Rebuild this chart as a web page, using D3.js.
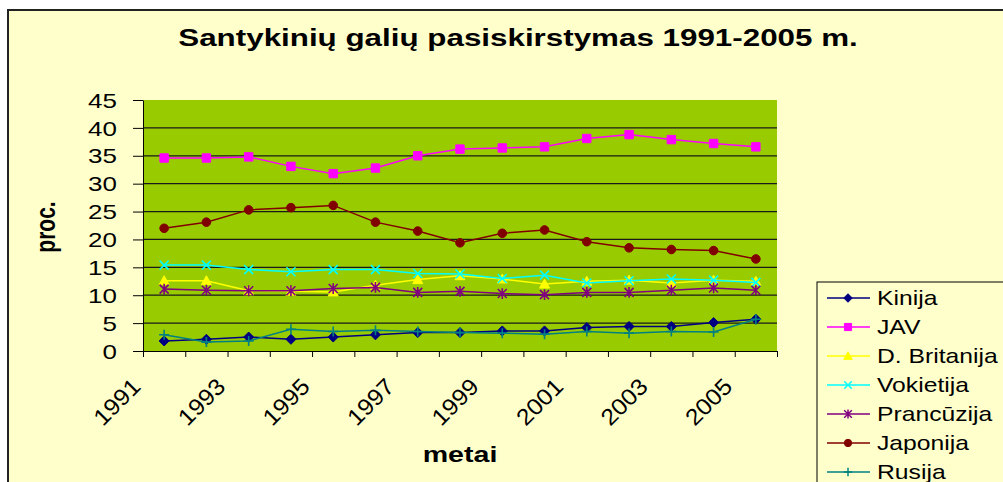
<!DOCTYPE html>
<html>
<head>
<meta charset="utf-8">
<script src="https://cdn.jsdelivr.net/npm/d3@7"></script>
<style>
  body { margin: 0; background: #fff; }
  svg { display: block; font-family: "Liberation Sans", Arial, sans-serif; }
</style>
</head>
<body>
<div id="chart"></div>
<script>
// chart data
const years = [1991, 1992, 1993, 1994, 1995, 1996, 1997, 1998, 1999, 2000, 2001, 2002, 2003, 2004, 2005];
const tickYears = [1991, 1993, 1995, 1997, 1999, 2001, 2003, 2005];
const yTicks = [0, 5, 10, 15, 20, 25, 30, 35, 40, 45];

const kinija      = [1.8, 2.1, 2.5, 2.1, 2.5, 2.9, 3.3, 3.3, 3.6, 3.6, 4.2, 4.4, 4.4, 5.1, 5.7];
const jav         = [34.6, 34.6, 34.8, 33.1, 31.8, 32.8, 35.0, 36.2, 36.4, 36.6, 38.1, 38.8, 37.9, 37.2, 36.6];
const dBritanija  = [12.6, 12.6, 10.8, 10.7, 10.6, 11.8, 12.8, 13.5, 12.9, 12.0, 12.5, 12.7, 12.2, 12.7, 12.5];
const vokietija   = [15.4, 15.4, 14.6, 14.2, 14.6, 14.6, 13.9, 13.8, 13.0, 13.6, 12.2, 12.6, 12.9, 12.7, 12.3];
const prancuzija  = [11.1, 10.9, 10.8, 10.8, 11.2, 11.4, 10.5, 10.7, 10.3, 10.1, 10.5, 10.5, 10.9, 11.3, 10.9];
const japonija    = [22.0, 23.1, 25.3, 25.7, 26.1, 23.1, 21.5, 19.4, 21.1, 21.7, 19.6, 18.5, 18.2, 18.0, 16.5];
const rusija      = [2.9, 1.6, 1.8, 3.9, 3.5, 3.7, 3.5, 3.3, 3.2, 3.0, 3.5, 3.2, 3.5, 3.4, 5.7];

const seriesNames = ['Kinija', 'JAV', 'D. Britanija', 'Vokietija', 'Prancūzija', 'Japonija', 'Rusija'];
const seriesValues = [kinija, jav, dBritanija, vokietija, prancuzija, japonija, rusija];
const seriesColors = ['#000080', '#ff00ff', '#ffff00', '#00ffff', '#800080', '#800000', '#008080'];
const seriesMarkers = ['diamond', 'square', 'triangle', 'x', 'star', 'circle', 'plus'];

const width = 1003;
const height = 482;
const SX = 1.3; // the picture is stretched sideways
const plot = { left: 143, right: 777, top: 100, bottom: 351 };

function markerPath(type, r) {
  switch (type) {
    case 'diamond': return `M0,${-r}L${r},0L0,${r}L${-r},0Z`;
    case 'square': return `M${-r},${-r}H${r}V${r}H${-r}Z`;
    case 'triangle': return `M0,${-r}L${r},${r * 0.8}L${-r},${r * 0.8}Z`;
    case 'x': return `M${-r},${-r}L${r},${r}M${-r},${r}L${r},${-r}`;
    case 'star': return `M${-r},${-r}L${r},${r}M${-r},${r}L${r},${-r}M0,${-r * 1.2}V${r * 1.2}`;
    case 'plus': return `M${-r},0H${r}M0,${-r}V${r}`;
    case 'circle': return d3.symbol(d3.symbolCircle, Math.PI * r * r)();
  }
}
const filledMarker = t => ['diamond', 'square', 'triangle', 'circle'].includes(t);
const markerSize = { diamond: 5, square: 4.2, triangle: 5, x: 4.5, star: 4.5, plus: 5, circle: 4.3 };

const svg = d3.select('#chart').append('svg')
    .attr('width', width)
    .attr('height', height);

// chart area
svg.append('rect')
    .attr('x', 8).attr('y', 10)
    .attr('width', 1100).attr('height', 600)
    .attr('fill', '#ffffcc')
    .attr('stroke', '#222')
    .attr('stroke-width', 2);

// title
const title = svg.append('text')
    .attr('text-anchor', 'middle')
    .attr('font-weight', 'bold')
    .attr('font-size', 24)
    .text('Santykinių galių pasiskirstymas 1991-2005 m.');
const titleW = title.node().getComputedTextLength();
title.attr('transform', `translate(518,46) scale(${680 / titleW},1)`);

const x = d3.scaleBand()
    .domain(years)
    .range([plot.left, plot.right]);
const xEdge = d3.scaleLinear()
    .domain([0, years.length])
    .range([plot.left, plot.right]);
const y = d3.scaleLinear()
    .domain([0, 45])
    .range([plot.bottom, plot.top]);

// plot area
svg.append('rect')
    .attr('x', plot.left).attr('y', plot.top)
    .attr('width', plot.right - plot.left)
    .attr('height', plot.bottom - plot.top)
    .attr('fill', '#99cc00');

svg.append('g')
    .selectAll('line')
    .data(yTicks.filter(v => v > 0 && v < 45))
    .enter()
    .append('line')
    .attr('x1', plot.left).attr('x2', plot.right)
    .attr('y1', d => y(d)).attr('y2', d => y(d))
    .attr('stroke', '#1a1a1a')
    .attr('stroke-width', 1.2);

// y axis
const yAxis = svg.append('g')
    .attr('transform', `translate(${plot.left},0)`)
    .call(d3.axisLeft(y).tickValues(yTicks).tickSize(10).tickSizeOuter(0));
yAxis.select('.domain').attr('stroke', '#000');
yAxis.selectAll('.tick line').attr('stroke', '#000');
yAxis.selectAll('text')
    .attr('font-family', '"Liberation Sans", Arial, sans-serif')
    .attr('font-size', 20)
    .attr('fill', '#000')
    .attr('x', -26 / SX)
    .attr('dy', '0.36em')
    .attr('transform', `scale(${SX},1)`);

// x axis, ticks between categories
const xAxis = svg.append('g')
    .attr('transform', `translate(0,${plot.bottom})`)
    .call(d3.axisBottom(xEdge).tickValues(d3.range(years.length + 1)).tickSize(6).tickSizeOuter(0).tickFormat(''));
xAxis.select('.domain').attr('stroke', '#000');
xAxis.selectAll('.tick line').attr('stroke', '#000');

svg.append('g')
    .selectAll('text')
    .data(tickYears)
    .enter()
    .append('text')
    .attr('transform', d => `translate(${x(d) + x.bandwidth() / 2 - 22},${plot.bottom + 37}) rotate(-45) scale(1.08,1)`)
    .attr('text-anchor', 'end')
    .attr('font-size', 23)
    .text(d => d);

// axis titles
svg.append('text')
    .attr('transform', `translate(460,462) scale(${SX},1)`)
    .attr('text-anchor', 'middle')
    .attr('font-weight', 'bold')
    .attr('font-size', 22)
    .text('metai');

svg.append('text')
    .attr('transform', `translate(55,227) scale(${SX},1) rotate(-90)`)
    .attr('text-anchor', 'middle')
    .attr('font-weight', 'bold')
    .attr('font-size', 21)
    .text('proc.');

// series
const lines = svg.append('g');
seriesValues.forEach((values, i) => {
  const pts = values.map((v, j) => ({ year: years[j], val: v }));
  lines.append('path')
      .attr('fill', 'none')
      .attr('stroke', seriesColors[i])
      .attr('stroke-width', 1.5)
      .attr('d', d3.line()
          .x(d => x(d.year) + x.bandwidth() / 2)
          .y(d => y(d.val))(pts));
  const m = seriesMarkers[i];
  lines.append('g')
      .selectAll('path')
      .data(pts)
      .enter()
      .append('path')
      .attr('transform', d => `translate(${x(d.year) + x.bandwidth() / 2},${y(d.val)})`)
      .attr('d', markerPath(m, markerSize[m]))
      .attr('fill', filledMarker(m) ? seriesColors[i] : 'none')
      .attr('stroke', seriesColors[i])
      .attr('stroke-width', filledMarker(m) ? 1 : 1.6);
});

// legend
const legend = svg.append('g');
legend.append('rect')
    .attr('x', 817).attr('y', 282)
    .attr('width', 300).attr('height', 300)
    .attr('fill', '#ffffcc')
    .attr('stroke', '#000')
    .attr('stroke-width', 1);

const items = legend.selectAll('.item')
    .data(seriesNames)
    .enter()
    .append('g')
    .attr('class', 'item')
    .attr('transform', (d, i) => `translate(0,${298 + i * 29})`);
items.append('line')
    .attr('x1', 827).attr('x2', 870)
    .attr('stroke', (d, i) => seriesColors[i])
    .attr('stroke-width', 1.5);
items.append('path')
    .attr('transform', 'translate(848,0)')
    .attr('d', (d, i) => markerPath(seriesMarkers[i], markerSize[seriesMarkers[i]] * 0.85))
    .attr('fill', (d, i) => filledMarker(seriesMarkers[i]) ? seriesColors[i] : 'none')
    .attr('stroke', (d, i) => seriesColors[i])
    .attr('stroke-width', (d, i) => filledMarker(seriesMarkers[i]) ? 1 : 1.5);
items.append('text')
    .attr('transform', `translate(877,7) scale(${SX * 0.95},1)`)
    .attr('font-size', 20)
    .text(d => d);
</script>
</body>
</html>
